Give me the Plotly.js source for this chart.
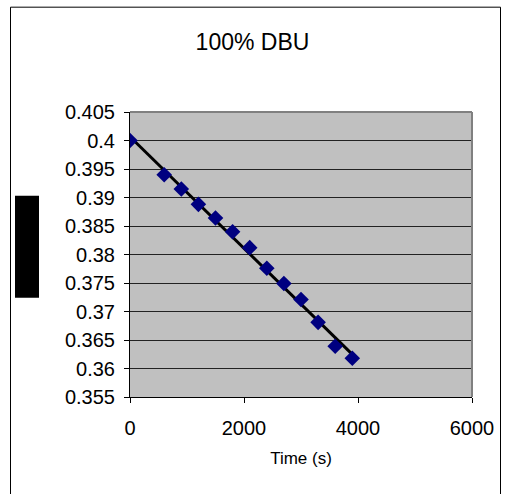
<!DOCTYPE html>
<html><head><meta charset="utf-8">
<script src="https://cdn.plot.ly/plotly-3.0.1.min.js"></script>
<style>html,body{margin:0;padding:0;background:#fff;}#chart{width:505px;height:494px;}</style>
</head><body><div id="chart"></div>
<script>
var timeS = [0, 600, 900, 1200, 1500, 1800, 2100, 2400, 2700, 3000, 3300, 3600, 3900];
var values = [0.4000, 0.3940, 0.3915, 0.3888, 0.3864, 0.3840, 0.3812, 0.3776, 0.3749, 0.3721, 0.3681, 0.3639, 0.3618];
var titleText = "100% DBU";
var xTitle = "Time (s)";
var xTicks = [0, 2000, 4000, 6000];
var yTicks = [0.355, 0.36, 0.365, 0.37, 0.375, 0.38, 0.385, 0.39, 0.395, 0.4, 0.405];
var yTickText = ["0.355","0.36","0.365","0.37","0.375","0.38","0.385","0.39","0.395","0.4","0.405"];

// linear trendline (least squares) from the data
var n = timeS.length, sx=0, sy=0, sxx=0, sxy=0;
for (var i=0;i<n;i++){sx+=timeS[i];sy+=values[i];sxx+=timeS[i]*timeS[i];sxy+=timeS[i]*values[i];}
var slope=(n*sxy-sx*sy)/(n*sxx-sx*sx), icpt=(sy-slope*sx)/n;
var tx=[timeS[0], timeS[n-1]];
var ty=tx.map(function(x){return icpt+slope*x;});

var font = "Liberation Sans, Arial, sans-serif";
var data = [
  {x: tx, y: ty, mode: 'lines', line: {color: '#000', width: 3}, hoverinfo: 'skip', showlegend: false},
  {x: timeS, y: values, mode: 'markers', marker: {symbol: 'diamond', size: 12, color: '#000080'}, showlegend: false}
];
var L=130, R=472, T=112, B=397.5, W=505, H=494;
function px(x){return (x-L)/(R-L);}
function py(y){return (B-y)/(B-T);}
var layout = {
  width: W, height: H,
  margin: {l: L, r: W-R, t: T, b: H-B},
  paper_bgcolor: '#fff', plot_bgcolor: '#C0C0C0',
  font: {family: font, color: '#000', size: 20},
  title: {text: titleText, font: {family: font, size: 23, color: '#000'}, x: 0.5, xanchor: 'center', y: 1-42/H, yanchor: 'middle'},
  xaxis: {range: [0, 6000], tickvals: xTicks, ticktext: xTicks.map(String), showgrid: false, zeroline: false,
    showline: true, linecolor: '#000', linewidth: 1, ticks: 'outside', ticklen: 5, tickcolor: '#000', ticklabelstandoff: 8,
    tickfont: {family: font, size: 20}, title: {text: xTitle, font: {family: font, size: 17}, standoff: 14}},
  yaxis: {range: [0.355, 0.405], tickvals: yTicks, ticktext: yTickText, showgrid: true, gridcolor: '#222', gridwidth: 1,
    zeroline: false, showline: true, linecolor: '#000', linewidth: 1, ticks: 'outside', ticklen: 5, tickcolor: '#000', ticklabelstandoff: 5,
    tickfont: {family: font, size: 20}},
  shapes: [
    {type: 'line', xref: 'paper', yref: 'paper', x0: 0, x1: 1, y0: 1, y1: 1, line: {color: '#808080', width: 2}},
    {type: 'line', xref: 'paper', yref: 'paper', x0: 1, x1: 1, y0: 0, y1: 1, line: {color: '#808080', width: 2}},
    {type: 'rect', xref: 'paper', yref: 'paper', x0: px(10.5), x1: px(500.5), y0: py(7), y1: py(500), line: {color: '#000', width: 1}, fillcolor: 'rgba(0,0,0,0)', layer: 'below'},
    {type: 'rect', xref: 'paper', yref: 'paper', x0: px(15), x1: px(39), y0: py(196), y1: py(298), line: {width: 0}, fillcolor: '#000'}
  ]
};
Plotly.newPlot('chart', data, layout, {displayModeBar: false, staticPlot: true});
</script></body></html>
